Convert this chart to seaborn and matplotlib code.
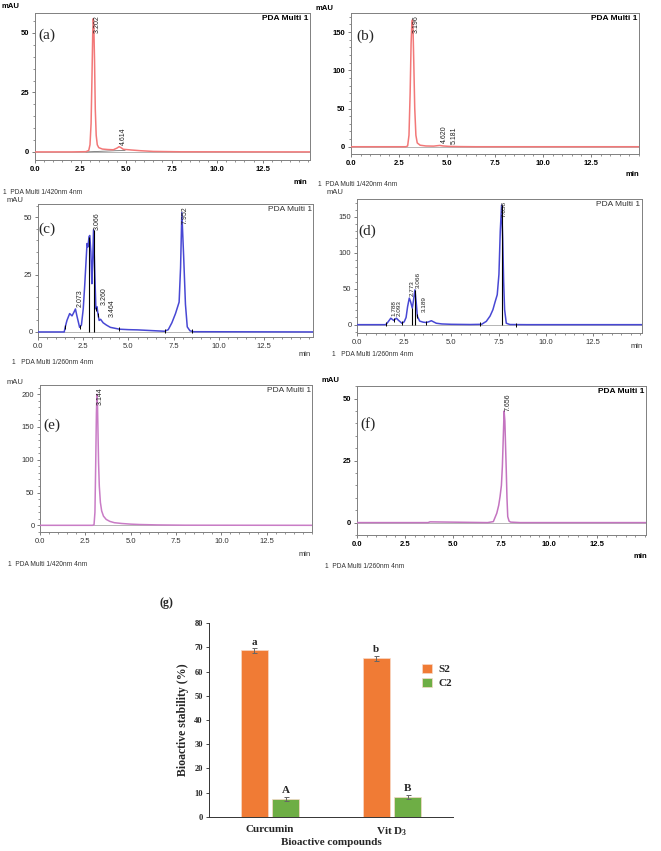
import numpy as np
import pandas as pd
import matplotlib
matplotlib.use("Agg")
import matplotlib.pyplot as plt
from matplotlib.ticker import MultipleLocator
import seaborn as sns

## HPLC traces: time (min) vs signal (mAU) ##
# (a) curcumin standard, 420 nm
a_time = [0, 1.0, 2.0, 2.8, 2.95, 3.02, 3.08, 3.13, 3.17, 3.2, 3.23, 3.27, 3.31, 3.36, 3.42,
          3.5, 3.7, 4.0, 4.3, 4.5, 4.62, 4.72, 4.85, 5.0, 5.3, 5.8, 6.5, 8.0, 15.1]
a_mau = [0, 0, 0, 0.1, 0.6, 3, 12, 32, 50, 56, 53, 38, 18, 7, 3,
         1.8, 1.2, 1.0, 0.9, 1.6, 2.2, 1.8, 1.1, 1.0, 0.8, 0.5, 0.2, 0.05, 0]
a_base_time = [2.8, 4.4, 4.95]
a_base_mau = [0.0, 0.5, 0.6]
a_peaks = ["3.202", "4.614"]

# (b) curcumin in S2, 420 nm
b_time = [0, 2.0, 2.85, 2.95, 3.02, 3.08, 3.13, 3.17, 3.2, 3.23, 3.27, 3.32, 3.38, 3.45,
          3.6, 3.9, 4.3, 4.55, 4.62, 4.8, 5.1, 5.6, 6.5, 15]
b_mau = [0, 0, 0, 1, 15, 70, 135, 162, 166, 155, 110, 50, 15, 5,
         2, 1, 0.8, 1.5, 1.7, 1.0, 0.5, 0.2, 0, 0]
b_peaks = ["3.196", "4.620", "5.181"]

# (c) vit D3 in S2, 260 nm
c_time = [0, 1.45, 1.5, 1.6, 1.75, 1.88, 1.98, 2.07, 2.15, 2.3, 2.4, 2.5, 2.58, 2.65, 2.71,
          2.76, 2.82, 2.86, 2.92, 2.98, 3.02, 3.07, 3.13, 3.2, 3.26, 3.32, 3.38, 3.46, 3.6,
          3.78, 4.0, 4.5, 5.0, 5.5, 6.0, 6.5, 7.0, 7.2, 7.4, 7.6, 7.8, 7.88, 7.95, 8.05, 8.15,
          8.25, 8.4, 8.6, 15.2]
c_mau = [0, 0, 2, 5, 8, 7, 8.5, 10, 7, 2, 3, 10, 20, 30, 38.5,
         37, 41.5, 42, 35, 21, 30, 44.5, 28, 10, 11, 7.5, 5, 5.5, 4,
         3, 2, 1.2, 1, 0.9, 0.7, 0.5, 0.3, 1, 4, 8, 13, 28, 52, 33, 12,
         2.2, 0.5, 0.1, 0]
c_peaks = ["2.073", "3.066", "3.260", "3.464", "7.952"]
c_marks = [2.82, 3.07]
c_base_marks = [1.5, 2.3, 3.2, 3.32, 4.5, 7.0, 8.5]

# (d) vit D3 in C2, 260 nm
d_time = [0, 1.5, 1.56, 1.65, 1.79, 1.94, 2.09, 2.2, 2.38, 2.5, 2.6, 2.68, 2.77, 2.84, 2.93,
          3.0, 3.07, 3.14, 3.2, 3.32, 3.5, 3.67, 3.8, 3.94, 4.05, 4.2, 4.5, 5.0, 6.0, 6.6,
          6.85, 7.05, 7.2, 7.32, 7.43, 7.52, 7.59, 7.66, 7.72, 7.77, 7.82, 7.91, 8.1, 9, 15.1]
d_mau = [0, 0, 1, 4, 9, 6, 9, 6, 2, 4, 10, 25, 37, 32, 23,
         35, 48.5, 30, 11.5, 5, 3.5, 3, 4, 5.5, 4, 2, 1, 0.5, 0.2, 0.5,
         4.6, 12, 20.8, 32, 41.7, 70, 130, 166.5, 120, 60, 21, 2, 0.2, 0, 0]
d_peaks = ["1.788", "2.093", "2.773", "3.066", "3.189", "7.658"]
d_marks = [2.93, 3.07, 7.66]
d_base_marks = [1.56, 1.94, 2.38, 3.2, 3.67, 6.5, 8.45]

# (e) curcumin in C2, 420 nm
e_time = [0, 2.9, 2.98, 3.03, 3.07, 3.11, 3.14, 3.17, 3.2, 3.23, 3.27, 3.33, 3.4, 3.5, 3.65,
          3.85, 4.1, 4.5, 5.0, 5.5, 6.5, 8.0, 15]
e_mau = [0, 0, 1, 20, 90, 170, 200, 185, 140, 95, 60, 35, 22, 14, 9,
         6, 4, 2.8, 1.8, 1.2, 0.6, 0.2, 0]
e_peaks = ["3.144"]

# (f) vit D3 standard, 260 nm
f_time = [0, 3.7, 3.8, 6.8, 7.1, 7.28, 7.38, 7.45, 7.52, 7.57, 7.62, 7.66, 7.7, 7.74, 7.77,
          7.81, 7.85, 7.92, 8.0, 8.5, 15.05]
f_mau = [0, 0, 0.3, 0, 0.4, 3.8, 7, 10.5, 15, 22.6, 35, 45, 41, 30, 22,
         10, 2.4, 0.6, 0.2, 0, 0]
f_peaks = ["7.656"]

## (g) bioactive stability ##
compounds = ["Curcumin", "Vit D$_3$"]
s2_stability = [68.8, 65.5]
c2_stability = [7.4, 8.1]
s2_err = [1.0, 1.0]
c2_err = [0.9, 0.9]
s2_letters = ["a", "b"]
c2_letters = ["A", "B"]

sns.set_style("ticks")
plt.rcParams["font.family"] = ["Liberation Sans", "DejaVu Sans"]
plt.rcParams["mathtext.fontset"] = "custom"
plt.rcParams["mathtext.rm"] = "Liberation Serif:bold"
plt.rcParams["mathtext.it"] = "Liberation Serif:bold"
plt.rcParams["mathtext.bf"] = "Liberation Serif:bold"

W, H = 661, 851
fig = plt.figure(figsize=(W / 100, H / 100), dpi=100)


def box(x0, y0, x1, y1):
    # pixel box (top-left origin) -> figure rect
    return [x0 / W, 1 - y1 / H, (x1 - x0) / W, (y1 - y0) / H]


def ftext(x, y, s, **kw):
    fig.text(x / W, 1 - y / H, s, **kw)


def chrom(rect, time, mau, color, ylim, ymaj, ymin_, xmax, peaks, heavy,
          tag, tag_xy, mau_xy, min_xy, foot_xy, foot, marks=(), base_marks=(), psize=5):
    ax = fig.add_axes(box(*rect))
    ax.axhline(0, color="0.6", lw=0.5, zorder=1)
    sns.lineplot(x=time, y=mau, color=color, lw=1.1, estimator=None, sort=False,
                 ax=ax, zorder=3)
    for t in marks:
        ax.vlines(t, 0, np.interp(t, time, mau), color="black", lw=0.8, zorder=4)
    if len(base_marks):
        ax.plot(base_marks, np.interp(base_marks, time, mau), ls="none", marker="|",
                ms=3, mew=0.7, color="black", zorder=4)
    ax.set_xlim(0, xmax)
    ax.set_ylim(*ylim)
    ax.set_xticks([0, 2.5, 5, 7.5, 10, 12.5])
    ax.set_xticklabels(["0.0", "2.5", "5.0", "7.5", "10.0", "12.5"])
    ax.xaxis.set_minor_locator(MultipleLocator(0.5))
    ax.yaxis.set_major_locator(MultipleLocator(ymaj))
    ax.yaxis.set_minor_locator(MultipleLocator(ymin_))
    ax.set_xlabel("")
    ax.set_ylabel("")
    weight = "bold" if heavy else "normal"
    tcol = "black" if heavy else "#333333"
    ax.tick_params(which="major", length=2.5, width=0.6, pad=1.5, labelsize=5.5,
                   color="0.4", labelcolor=tcol)
    ax.tick_params(which="minor", length=1.5, width=0.5, color="0.4")
    for lab in ax.get_xticklabels() + ax.get_yticklabels():
        lab.set_fontweight(weight)
    for s in ax.spines.values():
        s.set_color("0.5")
        s.set_linewidth(0.7)

    # retention time labels next to each peak, staggered when peaks crowd together
    top = ylim[1]
    prev_t, extra = -10, 0.0
    for lab in peaks:
        t = float(lab)
        extra = extra + 2.5 if t - prev_t < 0.25 else 0.0
        prev_t = t
        h = np.interp(t, time, mau)
        if h > 0.85 * top:
            ax.text(t, top * 0.985, lab, rotation=90, ha="left", va="top", fontsize=psize,
                    color="#222222")
        else:
            ax.annotate(lab, (t, h), xytext=(0.5 + extra, 1.5), textcoords="offset points",
                        rotation=90, ha="left", va="bottom", fontsize=psize,
                        color="#222222", annotation_clip=False)

    ax.text(0.995, 0.985, "PDA Multi 1", transform=ax.transAxes, ha="right", va="top",
            fontsize=6, fontweight=weight, color=tcol)
    ftext(*tag_xy, tag, family="Liberation Serif", fontsize=11, ha="center", va="center")
    ftext(*mau_xy, "mAU", fontsize=5.5, fontweight=weight, color=tcol, ha="center", va="center")
    ftext(*min_xy, "min", fontsize=5.5, fontweight=weight, color=tcol, ha="center", va="center")
    ftext(*foot_xy, foot, fontsize=4.8, color="#333333", ha="left", va="center")
    return ax


axa = chrom((35, 13, 310, 160), a_time, a_mau, "#f27878", (-3.4, 58.4), 25, 5, 15.1, a_peaks,
            True, "(a)", (47, 35), (10, 7), (300, 182), (3, 192), "1  PDA Multi 1/420nm 4nm")
sns.lineplot(x=a_base_time, y=a_base_mau, color="0.45", lw=0.6, estimator=None, ax=axa, zorder=2)

chrom((351, 13, 639, 154), b_time, b_mau, "#f27878", (-9.5, 175), 50, 10, 15.0, b_peaks, True,
      "(b)", (365, 36), (324, 8), (632, 174), (318, 184), "1  PDA Multi 1/420nm 4nm")

chrom((38, 204, 313, 337), c_time, c_mau, "#4848d4", (-2.2, 55.7), 25, 5, 15.2, c_peaks, False,
      "(c)", (47, 229), (15, 200), (305, 354), (12, 363), "1   PDA Multi 1/260nm 4nm",
      marks=c_marks, base_marks=c_base_marks, psize=5.0)

chrom((357, 199, 642, 333), d_time, d_mau, "#4848d4", (-11.6, 175), 50, 10, 15.1, d_peaks, False,
      "(d)", (367, 231), (335, 193), (637, 347), (332, 354), "1   PDA Multi 1/260nm 4nm",
      marks=d_marks, base_marks=d_base_marks, psize=4.6)

chrom((40, 385, 312, 532), e_time, e_mau, "#c97cc6", (-10.2, 214), 50, 10, 15.0, e_peaks, False,
      "(e)", (52, 425), (15, 382), (305, 554), (8, 564), "1  PDA Multi 1/420nm 4nm")

chrom((357, 386, 646, 535), f_time, f_mau, "#c474c0", (-5, 55.1), 25, 5, 15.05, f_peaks, True,
      "(f)", (368, 424), (330, 381), (640, 557), (325, 566), "1  PDA Multi 1/260nm 4nm")

## (g) bar chart ##
df = pd.DataFrame({
    "compound": compounds * 2,
    "formulation": ["S2"] * 2 + ["C2"] * 2,
    "stability": s2_stability + c2_stability,
    "err": s2_err + c2_err,
    "letter": s2_letters + c2_letters,
})

serif = "Liberation Serif"
axg = fig.add_axes(box(209, 623.3, 453, 816.7))
sns.barplot(data=df, x="compound", y="stability", hue="formulation",
            palette=["#F07B35", "#6EAE45"], saturation=1, width=0.52, gap=0.15,
            errorbar=None, edgecolor="#f7d9c8", linewidth=0.5, ax=axg)
for cont, (_, sub) in zip(axg.containers, df.groupby("formulation", sort=False)):
    for bar, e, letter in zip(cont, sub["err"], sub["letter"]):
        cx = bar.get_x() + bar.get_width() / 2
        h = bar.get_height()
        axg.errorbar(cx, h, yerr=e, color="0.4", capsize=1.8, lw=0.7, capthick=0.7)
        axg.text(cx, h + e + 0.6, letter, ha="center", va="bottom", fontsize=8,
                 fontweight="bold", family=serif)

axg.set_ylim(0, 80)
axg.set_yticks(range(0, 81, 10))
axg.set_xlim(-0.5, 1.5)
sns.despine(ax=axg)
for s in ["left", "bottom"]:
    axg.spines[s].set_linewidth(0.7)
    axg.spines[s].set_color("#333333")
axg.tick_params(axis="y", length=2, width=0.6, pad=2.5, labelsize=6)
axg.tick_params(axis="x", length=0, pad=6, labelsize=8)
for lab in axg.get_xticklabels() + axg.get_yticklabels():
    lab.set_fontweight("bold")
    lab.set_family(serif)
axg.set_xlabel("Bioactive compounds", fontsize=8, fontweight="bold", family=serif, labelpad=0)
axg.set_ylabel("Bioactive stability (%)", fontsize=8.5, fontweight="bold", family=serif,
               labelpad=4)
handles, labels = axg.get_legend_handles_labels()
axg.legend(handles, labels, loc="upper left", bbox_to_anchor=(0.85, 0.82), frameon=False,
           borderpad=0, handlelength=0.9, handleheight=0.9, handletextpad=0.6,
           labelspacing=0.35, prop={"family": serif, "weight": "bold", "size": 8})
ftext(166, 603, "(g)", family=serif, fontweight="bold", fontsize=8.5, ha="center", va="center")

plt.savefig("out.png", dpi=100)
